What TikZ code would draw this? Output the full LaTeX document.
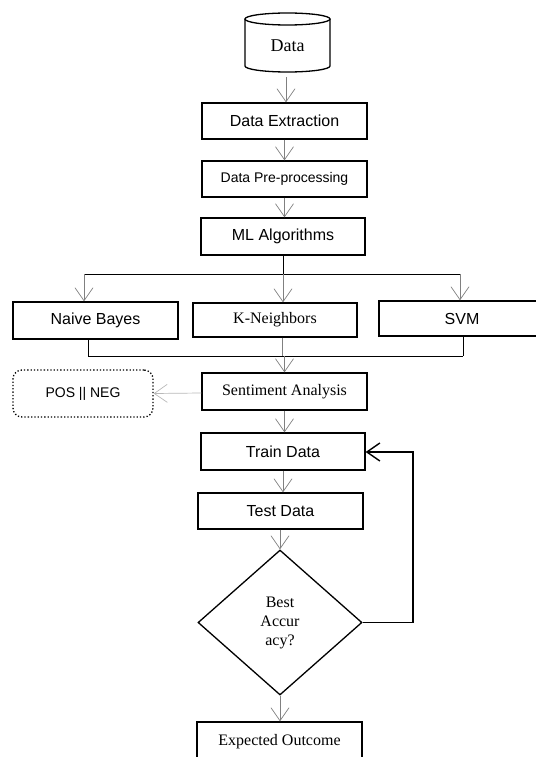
\documentclass[tikz,border=0pt]{standalone}
\usepackage{fontspec}
\setmainfont{Liberation Serif}
\newfontfamily\arial{Liberation Sans}
\usetikzlibrary{shapes.geometric,arrows.meta}
\begin{document}
\begin{tikzpicture}[x=1pt,y=-1pt,
  box/.style={draw, line width=1.3pt, inner sep=0pt, align=center},
  sansbig/.style={font=\arial\fontsize{16}{19}\selectfont},
  sanssmall/.style={font=\arial\fontsize{14}{17}\selectfont},
  serifbig/.style={font=\fontsize{16}{19}\selectfont},
  arr/.style={draw=gray, line width=0.7pt, -{Straight Barb[length=13pt,width=18pt]}},
  lightarr/.style={draw=gray!55, line width=0.7pt, -{Straight Barb[length=13pt,width=18pt]}},
  conn/.style={draw=black, line width=1pt},
  fb/.style={draw=black, line width=1.4pt, -{Straight Barb[length=13pt,width=18pt]}}
]
\useasboundingbox (0,0) rectangle (535,757);

% cylinder
\draw[line width=1.3pt] (245,19) -- (245,66) arc[start angle=180, end angle=0, x radius=42.5, y radius=6] -- (330,19);
\draw[line width=1.3pt] (287.5,19) ellipse [x radius=42.5, y radius=6];
\node[font=\fontsize{18}{21}\selectfont] (data) at (287.5,46) {Data};
\coordinate (databot) at (286,77);

\node[box, sansbig, minimum width=165pt, minimum height=36pt] (dext) at (284.5,121) {Data Extraction};
\node[box, sanssmall, minimum width=165pt, minimum height=36pt] (dpre) at (284.5,179) {Data Pre-processing};
\node[box, sansbig, minimum width=164pt, minimum height=37pt] (ml) at (283,236.5) {ML Algorithms};

\node[box, sansbig, minimum width=165pt, minimum height=37pt] (nb) at (95.5,320.5) {Naive Bayes};
\node[box, serifbig, minimum width=164pt, minimum height=34pt] (kn) at (275,320) {K-Neighbors};
\node[box, sansbig, minimum width=166pt, minimum height=35pt] (svm) at (462,318.5) {SVM};

\node[box, serifbig, minimum width=165pt, minimum height=37pt] (sa) at (284.5,391.5) {Sentiment Analysis};
\node[draw, dotted, line width=1.3pt, rounded corners=9pt, sanssmall, minimum width=140pt, minimum height=47pt, inner sep=0pt] (pos) at (83,393.5) {POS || NEG};

\node[box, sansbig, minimum width=164pt, minimum height=37pt] (train) at (283,451.5) {Train Data};
\node[box, sansbig, minimum width=165pt, minimum height=36pt] (test) at (280.5,511) {Test Data};
\node[draw, diamond, line width=1.3pt, inner sep=0pt, aspect=1, minimum width=164pt, minimum height=145pt, serifbig, align=center] (dia) at (280,622.5) {Best\\Accur\\acy?};
\node[box, serifbig, minimum width=165pt, minimum height=40pt] (eo) at (279.5,742) {\raisebox{4pt}{Expected Outcome}};

% connectors
\draw[arr] (databot) -- (databot |- dext.north);
\draw[arr] (dext.south) -- (dext.south |- dpre.north);
\draw[arr] (dpre.south) -- (dpre.south |- ml.north);

\coordinate (s0) at (283,274);
\coordinate (sl) at (84,274);
\coordinate (sr) at (460,274);
\draw[conn] (ml.south) -- (s0);
\draw[conn] (sl) -- (sr);
\draw[arr] (sl) -- (sl |- nb.north);
\draw[arr] (s0) -- (s0 |- kn.north);
\draw[arr] (sr) -- (sr |- svm.north);

\coordinate (ml2) at (88,356);
\coordinate (mk) at (282,356);
\coordinate (mr2) at (463,356);
\coordinate (mc) at (284.5,356);
\draw[conn] (nb.south -| ml2) -- (ml2);
\draw[conn, draw=gray] (kn.south -| mk) -- (mk);
\draw[conn] (svm.south -| mr2) -- (mr2);
\draw[conn] (ml2) -- (mr2);
\draw[arr] (mc) -- (mc |- sa.north);

\draw[lightarr] (sa.west) ++(0,1.5) -- (pos.east);
\draw[arr] (sa.south) -- (sa.south |- train.north);
\draw[arr] (train.south) -- (train.south |- test.north);
\draw[arr] (dia.north |- test.south) -- (dia.north);
\draw[arr] (dia.south) -- (dia.south |- eo.north);

\coordinate (fbx) at (413,452);
\draw[fb] (dia.east) -- (dia.east -| fbx) -- (fbx) -- (fbx -| train.east);
\end{tikzpicture}
\end{document}
